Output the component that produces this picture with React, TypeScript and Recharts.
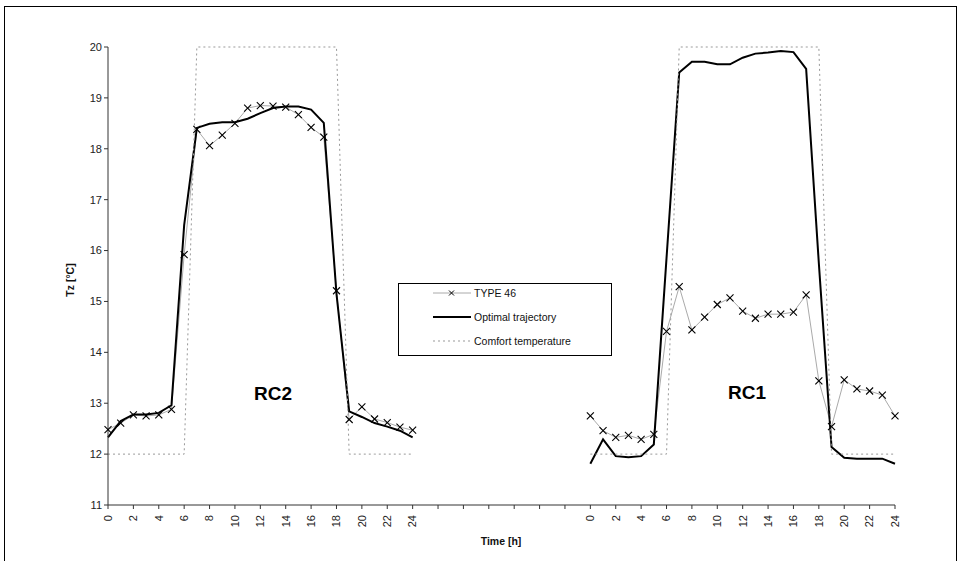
import { LineChart, Line, XAxis, YAxis, Legend, ReferenceDot } from 'recharts';

const FONT = "Arial, 'Liberation Sans', sans-serif";

// hour of day, one point per hour for each room
const hours = [0, 1, 2, 3, 4, 5, 6, 7, 8, 9, 10, 11, 12, 13, 14, 15, 16, 17, 18, 19, 20, 21, 22, 23, 24];

const type46RC2 = [12.48, 12.61, 12.77, 12.75, 12.77, 12.88, 15.92, 18.38, 18.06, 18.27, 18.5, 18.8, 18.85, 18.84, 18.82, 18.67, 18.42, 18.23, 15.21, 12.68, 12.93, 12.69, 12.62, 12.53, 12.47];
const optimalRC2 = [12.33, 12.65, 12.78, 12.78, 12.81, 12.96, 16.5, 18.41, 18.49, 18.52, 18.52, 18.59, 18.7, 18.8, 18.83, 18.83, 18.77, 18.51, 15.15, 12.84, 12.73, 12.61, 12.54, 12.46, 12.33];
const type46RC1 = [12.75, 12.46, 12.33, 12.37, 12.29, 12.39, 14.41, 15.29, 14.44, 14.69, 14.94, 15.07, 14.81, 14.67, 14.75, 14.75, 14.79, 15.13, 13.44, 12.54, 13.46, 13.28, 13.24, 13.16, 12.75];
const optimalRC1 = [11.81, 12.29, 11.96, 11.94, 11.96, 12.19, 15.85, 19.5, 19.71, 19.71, 19.66, 19.66, 19.79, 19.87, 19.89, 19.92, 19.9, 19.57, 15.75, 12.14, 11.93, 11.91, 11.91, 11.91, 11.81];
const comfort = [12, 12, 12, 12, 12, 12, 12, 20, 20, 20, 20, 20, 20, 20, 20, 20, 20, 20, 20, 12, 12, 12, 12, 12, 12];

// blank category slots between the two rooms on the shared axis
const gapSlots = [25, 26, 27, 28, 29, 30, 31, 32, 33, 34, 35, 36, 37];
const RC1_OFFSET = 38;

const yTicks = [11, 12, 13, 14, 15, 16, 17, 18, 19, 20];
const xTicks = [0, 2, 4, 6, 8, 10, 12, 14, 16, 18, 20, 22, 24, 26, 28, 30, 32, 34, 36, 38, 40, 42, 44, 46, 48, 50, 52, 54, 56, 58, 60, 62];

const rows: any[] = [];
hours.forEach((h, i) => rows.push({ x: h, type46: type46RC2[i], optimal: optimalRC2[i], comfort: comfort[i] }));
gapSlots.forEach((g) => rows.push({ x: g, type46: null, optimal: null, comfort: null }));
hours.forEach((h, i) => rows.push({ x: RC1_OFFSET + h, type46: type46RC1[i], optimal: optimalRC1[i], comfort: comfort[i] }));

const hourLabel = (v: number) => {
  if (v <= 24) return String(v);
  if (v >= RC1_OFFSET) return String(v - RC1_OFFSET);
  return '';
};

const Cross = (props: any) => {
  const { cx, cy, index } = props;
  if (cx == null || cy == null || props.value == null) return <g key={index} />;
  const s = 3.5;
  return (
    <g key={index}>
      <line x1={cx - s} y1={cy - s} x2={cx + s} y2={cy + s} stroke="#000" strokeWidth={1.1} />
      <line x1={cx - s} y1={cy + s} x2={cx + s} y2={cy - s} stroke="#000" strokeWidth={1.1} />
    </g>
  );
};

const XTick = ({ x, y, payload }: any) => (
  <text
    x={x}
    y={y + 4}
    transform={`rotate(-90, ${x}, ${y + 4})`}
    textAnchor="end"
    dy="0.35em"
    fontSize={11}
    fontFamily={FONT}
    fill="#222"
  >
    {hourLabel(payload.value)}
  </text>
);

const legendItems = [
  { name: 'TYPE 46', color: '#aaa', width: 1, dash: undefined, mark: true },
  { name: 'Optimal trajectory', color: '#000', width: 2, dash: undefined, mark: false },
  { name: 'Comfort temperature', color: '#999', width: 1, dash: '2 3', mark: false },
];

const renderLegend = () => (
  <div
    style={{
      width: 214,
      height: 73,
      boxSizing: 'border-box',
      border: '1px solid #000',
      background: '#fff',
      position: 'relative',
      fontFamily: FONT,
      fontSize: 10.5,
      color: '#111',
    }}
  >
    {legendItems.map((it, i) => (
      <div key={it.name} style={{ position: 'absolute', left: 34, top: 3 + i * 24, height: 12, display: 'flex', alignItems: 'center' }}>
        <svg width={40} height={12} style={{ display: 'block' }}>
          <line x1={0} y1={6} x2={38} y2={6} stroke={it.color} strokeWidth={it.width} strokeDasharray={it.dash} />
          {it.mark && (
            <g>
              <line x1={16} y1={3.5} x2={21} y2={8.5} stroke="#000" strokeWidth={1} />
              <line x1={16} y1={8.5} x2={21} y2={3.5} stroke="#000" strokeWidth={1} />
            </g>
          )}
        </svg>
        <span style={{ marginLeft: 1, whiteSpace: 'nowrap' }}>{it.name}</span>
      </div>
    ))}
  </div>
);

export default function App() {
  return (
    <div style={{ position: 'absolute', left: 0, top: 0, width: 969, height: 561, background: '#fff', overflow: 'hidden' }}>
      <div style={{ position: 'absolute', left: 4, top: 6, width: 951, height: 600, border: '1px solid #000' }} />
      <LineChart width={969} height={561} data={rows} margin={{ top: 47, right: 74, bottom: 16, left: 58 }}>
        <XAxis
          dataKey="x"
          type="number"
          domain={[0, 62]}
          ticks={xTicks}
          interval={0}
          tick={<XTick />}
          tickSize={4}
          stroke="#333"
          height={40}
          label={{
            content: () => (
              <text x={501} y={545} textAnchor="middle" fontSize={10.5} fontWeight="bold" fontFamily={FONT} fill="#111">
                Time [h]
              </text>
            ),
          }}
        />
        <YAxis
          type="number"
          domain={[11, 20]}
          ticks={yTicks}
          interval={0}
          width={50}
          tickSize={4}
          stroke="#333"
          tick={{ fontSize: 11, fontFamily: FONT, fill: '#222' }}
          label={{
            content: () => (
              <text
                x={74}
                y={280}
                transform="rotate(-90, 74, 280)"
                textAnchor="middle"
                fontSize={10.5}
                fontWeight="bold"
                fontFamily={FONT}
                fill="#111"
              >
                Tz [°C]
              </text>
            ),
          }}
        />
        <Legend
          layout="vertical"
          align="center"
          verticalAlign="middle"
          content={renderLegend}
          wrapperStyle={{ position: 'absolute', left: 398, top: 283, width: 214, height: 73 }}
        />
        <Line
          type="linear"
          dataKey="type46"
          name="TYPE 46"
          stroke="#aaa"
          strokeWidth={1}
          dot={<Cross />}
          activeDot={false}
          isAnimationActive={false}
        />
        <Line
          type="linear"
          dataKey="optimal"
          name="Optimal trajectory"
          stroke="#000"
          strokeWidth={2}
          dot={false}
          activeDot={false}
          isAnimationActive={false}
        />
        <Line
          type="linear"
          dataKey="comfort"
          name="Comfort temperature"
          stroke="#999"
          strokeWidth={1}
          strokeDasharray="2 3"
          dot={false}
          activeDot={false}
          isAnimationActive={false}
        />
        <ReferenceDot
          x={13}
          y={13.2}
          r={0}
          fill="none"
          stroke="none"
          label={{ value: 'RC2', fontSize: 19, fontWeight: 'bold', fontFamily: FONT, fill: '#000', position: 'center' }}
        />
        <ReferenceDot
          x={RC1_OFFSET + 12.35}
          y={13.22}
          r={0}
          fill="none"
          stroke="none"
          label={{ value: 'RC1', fontSize: 19, fontWeight: 'bold', fontFamily: FONT, fill: '#000', position: 'center' }}
        />
      </LineChart>
    </div>
  );
}
